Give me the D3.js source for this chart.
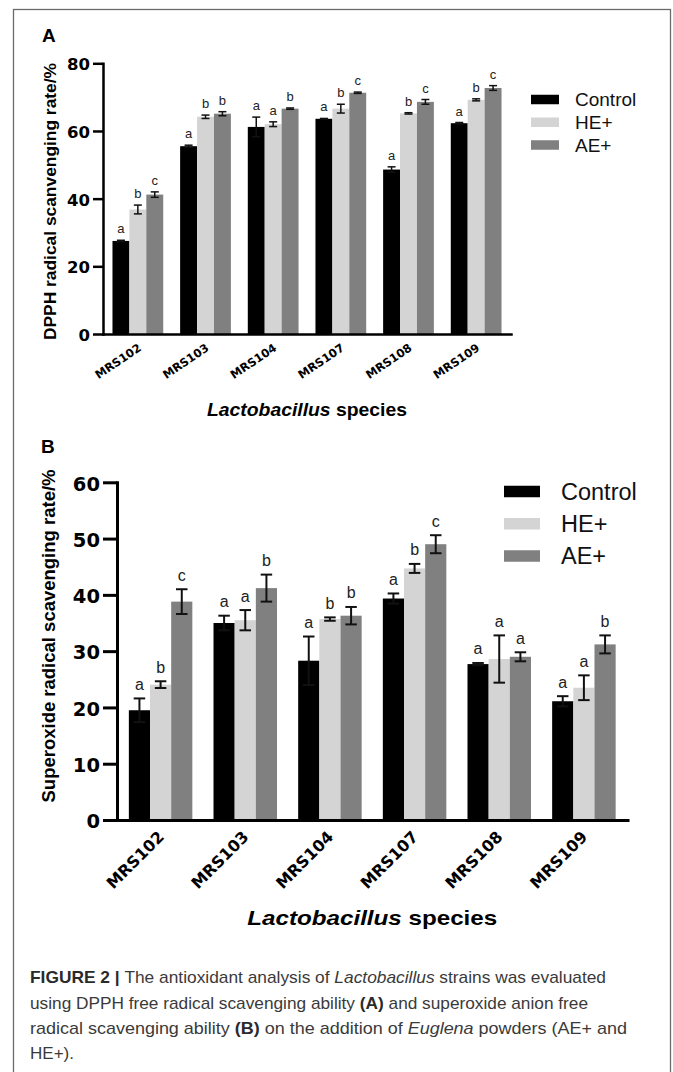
<!DOCTYPE html>
<html>
<head>
<meta charset="utf-8">
<script src="https://cdn.jsdelivr.net/npm/d3@7"></script>
<style>
  body { margin: 0; background: #fff; }
  svg { display: block; font-family: "Liberation Sans", Arial, sans-serif; }
</style>
</head>
<body>
<script>
'use strict';

// categories + groups
const strains = ["MRS102", "MRS103", "MRS104", "MRS107", "MRS108", "MRS109"];
const groups = ["Control", "HE+", "AE+"];
const groupColors = ["#000000", "#d4d4d4", "#808080"];

// panel A: DPPH
const dpphControl = [27.5, 55.5, 61.2, 63.6, 48.6, 62.3];
const dpphControlErr = [0.2, 0.3, 2.9, 0.1, 0.8, 0.2];
const dpphControlLetters = ["a", "a", "a", "a", "a", "a"];
const dpphHE = [36.8, 64.2, 62.0, 66.6, 65.2, 69.2];
const dpphHEErr = [1.3, 0.5, 0.7, 1.3, 0.2, 0.3];
const dpphHELetters = ["b", "b", "a", "b", "b", "b"];
const dpphAE = [41.2, 65.1, 66.6, 71.3, 68.6, 72.7];
const dpphAEErr = [0.8, 0.6, 0.2, 0.2, 0.7, 0.7];
const dpphAELetters = ["c", "b", "b", "c", "c", "c"];
const dpphTicks = [0, 20, 40, 60, 80];

// panel B: superoxide
const supControl = [19.5, 35.0, 28.3, 39.35, 27.7, 21.1];
const supControlErr = [2.1, 1.3, 4.3, 0.9, 0.2, 0.9];
const supControlLetters = ["a", "a", "a", "a", "a", "a"];
const supHE = [24.05, 35.5, 35.7, 44.7, 28.6, 23.5];
const supHEErr = [0.6, 1.8, 0.3, 0.8, 4.2, 2.2];
const supHELetters = ["b", "a", "b", "b", "a", "a"];
const supAE = [38.8, 41.2, 36.3, 49.0, 29.0, 31.2];
const supAEErr = [2.2, 2.4, 1.55, 1.6, 0.8, 1.6];
const supAELetters = ["c", "b", "b", "c", "a", "b"];
const supTicks = [0, 10, 20, 30, 40, 50, 60];

const svg = d3.select('body')
  .append('svg')
  .attr('width', 673)
  .attr('height', 1072);

// figure frame
svg.append('rect')
  .attr('x', 13.5).attr('y', 9.5)
  .attr('width', 657).attr('height', 1100)
  .attr('fill', 'none')
  .attr('stroke', '#6b6b6b')
  .attr('stroke-width', 1.3);

// stretch a text to a measured width
function fitWidth(sel, w) {
  sel.attr('textLength', w).attr('lengthAdjust', 'spacingAndGlyphs');
}

function drawPanel(p) {
  const g = svg.append('g');

  const x = d3.scaleBand().domain(strains)
    .range([p.left, p.right])
    .paddingInner(0.25)
    .paddingOuter(0.14);
  const sub = d3.scaleBand().domain(groups).range([0, x.bandwidth()]);
  const y = d3.scaleLinear().domain([0, d3.max(p.ticks)]).range([p.bottom, p.top]);

  const rowsFor = (s) => strains.map((name, i) => ({
    name: name, v: s.values[i], e: s.errors[i], t: s.letters[i]
  }));

  // bars
  p.series.forEach((s, gi) => {
    g.append('g').selectAll('rect')
      .data(rowsFor(s))
      .join('rect')
      .attr('x', d => x(d.name) + sub(groups[gi]))
      .attr('y', d => y(d.v))
      .attr('width', sub.bandwidth())
      .attr('height', d => y(0) - y(d.v))
      .attr('fill', groupColors[gi]);
  });

  // error bars + letters
  p.series.forEach((s, gi) => {
    const cx = d => x(d.name) + sub(groups[gi]) + sub.bandwidth() / 2;
    const eg = g.append('g').attr('stroke', '#111').attr('stroke-width', p.errW);
    const rows = rowsFor(s);
    eg.selectAll('line.v').data(rows).join('line').attr('class', 'v')
      .attr('x1', cx).attr('x2', cx)
      .attr('y1', d => y(d.v - d.e)).attr('y2', d => y(d.v + d.e));
    eg.selectAll('line.t').data(rows).join('line').attr('class', 't')
      .attr('x1', d => cx(d) - p.capW / 2).attr('x2', d => cx(d) + p.capW / 2)
      .attr('y1', d => y(d.v + d.e)).attr('y2', d => y(d.v + d.e));
    eg.selectAll('line.b').data(rows).join('line').attr('class', 'b')
      .attr('x1', d => cx(d) - p.capW / 2).attr('x2', d => cx(d) + p.capW / 2)
      .attr('y1', d => y(d.v - d.e)).attr('y2', d => y(d.v - d.e));

    g.append('g').selectAll('text')
      .data(rows)
      .join('text')
      .attr('x', cx)
      .attr('y', d => y(d.v + d.e) - p.letterGap)
      .attr('text-anchor', 'middle')
      .attr('font-size', p.letterFont)
      .attr('fill', '#222')
      .text(d => d.t);
  });

  // y axis
  const yAxis = d3.axisLeft(y).tickValues(p.ticks)
    .tickSize(p.tickLen).tickSizeOuter(0).tickPadding(3);
  const ya = g.append('g').attr('transform', `translate(${p.left},0)`).call(yAxis);
  ya.select('.domain').attr('stroke-width', p.axisW).attr('stroke-linecap', 'square');
  ya.selectAll('.tick line').attr('stroke-width', p.axisW);
  ya.selectAll('.tick text')
    .attr('font-family', '"DejaVu Sans", sans-serif')
    .attr('font-weight', 'bold')
    .attr('font-size', p.tickFont)
    .attr('fill', '#000')
    .attr('dy', '0.4em');

  // x axis with rotated strain labels
  const xAxis = d3.axisBottom(x).tickSize(0).tickSizeOuter(0);
  const xa = g.append('g').attr('transform', `translate(0,${p.bottom})`).call(xAxis);
  xa.select('.domain').attr('stroke-width', p.axisW).attr('stroke-linecap', 'square');
  xa.selectAll('.tick text')
    .attr('x', 0).attr('y', 0).attr('dy', '0.35em')
    .attr('text-anchor', 'end')
    .attr('transform', `translate(${p.lblDx},${p.lblDy}) rotate(${-p.lblAngle})`)
    .attr('font-family', '"DejaVu Sans", sans-serif')
    .attr('font-weight', 'bold')
    .attr('font-size', p.lblFont)
    .attr('fill', '#000');

  // axis titles
  const yt = g.append('text')
    .attr('transform', `translate(${p.yTitleX},${p.yTitleY}) rotate(-90)`)
    .attr('text-anchor', 'middle')
    .attr('dy', '0.35em')
    .attr('font-weight', 'bold')
    .attr('font-size', p.yTitleFont)
    .text(p.yTitle);
  fitWidth(yt, p.yTitleLen);

  const xt = g.append('text')
    .attr('x', (p.left + p.right) / 2)
    .attr('y', p.xTitleY)
    .attr('text-anchor', 'middle')
    .attr('font-weight', 'bold')
    .attr('font-size', p.xTitleFont);
  xt.append('tspan').attr('font-style', 'italic').text('Lactobacillus');
  xt.append('tspan').text(' species');
  fitWidth(xt, p.xTitleLen);

  // legend
  const lg = g.append('g').selectAll('g')
    .data(groups)
    .join('g')
    .attr('transform', (d, i) => `translate(${p.legX},${p.legY + i * p.legStep})`);
  lg.append('rect')
    .attr('x', 0).attr('y', -p.legH / 2)
    .attr('width', p.legW).attr('height', p.legH)
    .attr('fill', (d, i) => groupColors[i]);
  lg.append('text')
    .attr('x', p.legW + p.legGap)
    .attr('dy', '0.36em')
    .attr('font-size', p.legFont)
    .attr('fill', '#111')
    .text(d => d);

  // panel letter
  g.append('text')
    .attr('x', p.tagX).attr('y', p.tagY)
    .attr('font-weight', 'bold')
    .attr('font-size', 19)
    .text(p.tag);
}

drawPanel({
  tag: 'A', tagX: 42, tagY: 42,
  left: 103, right: 511, top: 63.3, bottom: 334,
  ticks: dpphTicks, tickLen: 10, tickFont: 16.5, axisW: 2.5,
  errW: 1.5, capW: 8, letterGap: 7, letterFont: 13,
  lblFont: 11.5, lblAngle: 34, lblDx: 2, lblDy: 12.5,
  yTitle: 'DPPH radical scanvenging rate/%', yTitleX: 50, yTitleY: 201.5, yTitleFont: 16, yTitleLen: 277,
  xTitleY: 416, xTitleFont: 18.5, xTitleLen: 200,
  legX: 531, legY: 99.5, legStep: 22.75, legW: 28, legH: 9.5, legGap: 16, legFont: 19,
  series: [
    { values: dpphControl, errors: dpphControlErr, letters: dpphControlLetters },
    { values: dpphHE, errors: dpphHEErr, letters: dpphHELetters },
    { values: dpphAE, errors: dpphAEErr, letters: dpphAELetters }
  ]
});

drawPanel({
  tag: 'B', tagX: 41, tagY: 453,
  left: 117, right: 627.5, top: 482.3, bottom: 820,
  ticks: supTicks, tickLen: 14, tickFont: 19.5, axisW: 3,
  errW: 2, capW: 11.5, letterGap: 8.5, letterFont: 16,
  lblFont: 16, lblAngle: 45, lblDx: 0.5, lblDy: 14,
  yTitle: 'Superoxide radical scavenging rate/%', yTitleX: 48.5, yTitleY: 636, yTitleFont: 18, yTitleLen: 333,
  xTitleY: 925, xTitleFont: 21, xTitleLen: 250,
  legX: 504, legY: 491.5, legStep: 32.25, legW: 36, legH: 11.5, legGap: 21, legFont: 23.5,
  series: [
    { values: supControl, errors: supControlErr, letters: supControlLetters },
    { values: supHE, errors: supHEErr, letters: supHELetters },
    { values: supAE, errors: supAEErr, letters: supAELetters }
  ]
});

// caption
const capFont = '"Liberation Sans Narrow", "Arial Narrow", "Liberation Sans", Arial, sans-serif';
const caption = svg.append('g')
  .attr('font-family', capFont)
  .attr('font-size', 17)
  .attr('fill', '#3a3a3a');

function capLine(y, w, parts) {
  const t = caption.append('text').attr('x', 30).attr('y', y);
  parts.forEach(pt => {
    const s = t.append('tspan').text(pt[0]);
    if (pt[1] === 'b') s.attr('font-weight', 'bold').attr('fill', '#2a2a2a');
    if (pt[1] === 'i') s.attr('font-style', 'italic');
  });
  fitWidth(t, w);
}

capLine(983, 576, [["FIGURE 2 | ", "b"], ["The antioxidant analysis of "], ["Lactobacillus", "i"], [" strains was evaluated"]]);
capLine(1009, 558, [["using DPPH free radical scavenging ability "], ["(A)", "b"], [" and superoxide anion free"]]);
capLine(1034, 597, [["radical scavenging ability "], ["(B)", "b"], [" on the addition of "], ["Euglena", "i"], [" powders (AE+ and"]]);
capLine(1059, 44, [["HE+)."]]);
</script>
</body>
</html>
